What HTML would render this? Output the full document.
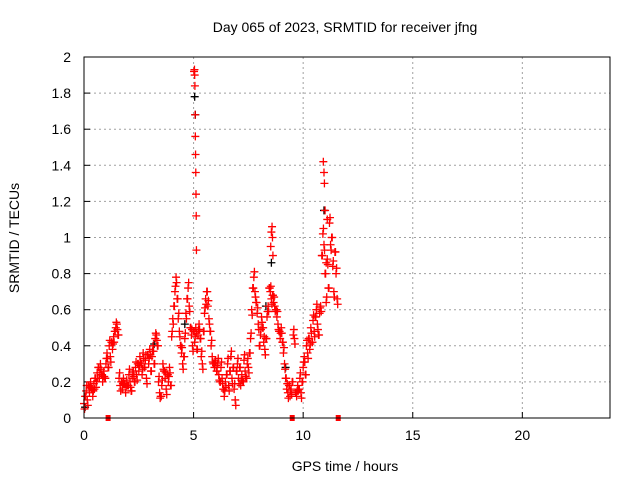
<!DOCTYPE html>
<html><head><meta charset="utf-8"><style>
body{margin:0;background:#fff;width:640px;height:480px;overflow:hidden}
svg{font-family:"Liberation Sans",sans-serif;font-size:14px}
</style></head><body>
<svg id="c" width="640" height="480"></svg>
<script>
const xTicks=[0,5,10,15,20];
const yTicks=[0,0.2,0.4,0.6,0.8,1,1.2,1.4,1.6,1.8,2];
const redStart=0, redStep=0.05;
const redValues=[0.08,0.12,0.15,0.10,0.18,0.14,0.20,0.16,0.12,0.19,
0.22,0.17,0.25,0.28,0.22,0.30,0.24,0.20,0.26,0.22,
0.30,0.36,0.28,0.40,0.34,0.42,0.38,0.45,0.48,0.50,
0.52,0.46,0.22,0.18,0.20,0.16,0.22,0.19,0.14,0.21,
0.18,0.24,0.20,0.15,0.22,0.26,0.20,0.28,0.24,0.30,
0.26,0.34,0.30,0.24,0.36,0.28,0.32,0.22,0.35,0.30,
0.38,0.26,0.34,0.40,0.30,0.44,0.46,0.40,0.20,0.14,
0.12,0.18,0.30,0.26,0.22,0.16,0.24,0.20,0.28,0.18,
0.45,0.55,0.62,0.70,0.78,0.66,0.55,0.48,0.40,0.36,
0.30,0.34,0.44,0.58,0.66,0.72,0.62,0.50,0.46,0.40,
0.48,0.42,0.50,0.38,0.46,0.52,0.44,0.34,0.30,0.48,
0.58,0.66,0.70,0.62,0.55,0.48,0.40,0.34,0.30,0.28,
0.32,0.26,0.30,0.24,0.20,0.28,0.22,0.16,0.12,0.20,
0.24,0.30,0.18,0.26,0.34,0.22,0.28,0.16,0.10,0.26,
0.30,0.22,0.28,0.18,0.24,0.20,0.32,0.26,0.22,0.30,
0.28,0.36,0.44,0.60,0.72,0.78,0.70,0.64,0.58,0.52,
0.40,0.46,0.56,0.50,0.42,0.38,0.44,0.56,0.62,0.72,
0.70,0.66,0.68,0.64,0.62,0.60,0.56,0.52,0.48,0.44,
0.50,0.42,0.36,0.30,0.22,0.16,0.14,0.18,0.12,0.16,
0.20,0.46,0.44,0.14,0.12,0.18,0.16,0.22,0.14,0.20,
0.28,0.34,0.24,0.40,0.36,0.44,0.38,0.50,0.42,0.54,
0.48,0.56,0.60,0.52,0.46,0.58,0.62,0.90,1.02,0.96,
0.80,0.64,0.88,0.72,1.08,0.96,1.00,0.84,0.70,0.92,
0.80,0.66];
const blackTimes=[0.05,3.2,4.6,5.05,5.08,8.3,8.55,9.2,10.95];
const blackValues=[0.06,0.41,0.52,1.78,1.68,0.62,0.86,0.28,1.15];
const spikeTimes=[5.02,5.04,5.05,5.06,5.07,5.08,5.09,5.1,5.11,5.12,5.13,8.52,8.55,8.58,8.6,8.62,10.92,10.95,10.97,11.0,11.05,11.1];
const spikeValues=[1.92,1.93,1.90,1.84,1.68,1.56,1.46,1.36,1.24,1.12,0.93,0.95,1.03,1.06,1.00,0.90,1.42,1.36,1.30,1.15,0.86,1.10];
const flagTimes=[1.1,9.5,11.6];
const flagValues=[0,0,0];

const L=84,R=610,T=57,B=418;
const X=t=>L+(t/24)*(R-L);
const Y=v=>B-(v/2)*(B-T);
const svg=document.getElementById('c');
const NS='http://www.w3.org/2000/svg';
function mk(tag,attrs,parent){const e=document.createElementNS(NS,tag);for(const k in attrs)e.setAttribute(k,attrs[k]);(parent||svg).appendChild(e);return e;}

const grid=mk('g',{});


xTicks.forEach(t=>{if(t>0){const l=mk('line',{x1:X(t),x2:X(t),y1:T,y2:B,stroke:'#a0a0a0','stroke-dasharray':'2,3'},grid);}});
yTicks.forEach(v=>{if(v>0&&v<2){const l=mk('line',{x1:L,x2:R,y1:Y(v),y2:Y(v),stroke:'#a0a0a0','stroke-dasharray':'2,3'},grid);}});

xTicks.forEach(t=>{
const tk=mk('line',{x1:X(t),x2:X(t),y1:B,y2:B-6,stroke:'#000'});


const tx=mk('text',{x:X(t),y:B+22,'text-anchor':'middle'});tx.textContent=t;


});
yTicks.forEach(v=>{
const tk=mk('line',{x1:L,x2:L+6,y1:Y(v),y2:Y(v),stroke:'#000'});


const tx=mk('text',{x:71,y:Y(v)+5,'text-anchor':'end'});tx.textContent=String(v);


});

function plus(t,v,col,g){const x=X(t),y=Y(v);const p=mk('path',{d:`M${x-4} ${y}h8M${x} ${y-4}v8`,stroke:col,'stroke-width':1.3,fill:'none'},g);

}
const gb=mk('g',{});


blackValues.forEach((v,i)=>plus(blackTimes[i],v,'#000',gb));
const gr=mk('g',{});


redValues.forEach((v,i)=>{const t=redStart+i*redStep;plus(t,v,'#f00',gr);plus(t+0.025,v+((i%3)-1)*0.03,'#f00',gr);});
spikeTimes.forEach((t,i)=>plus(t,spikeValues[i],'#f00',gr));
flagTimes.forEach((t,i)=>{const r=mk('rect',{x:X(t)-2.5,y:Y(flagValues[i])-3,width:5,height:6,fill:'#f00'},gr);

});

const frame=mk('rect',{x:L,y:T,width:R-L,height:B-T,fill:'none',stroke:'#000'});


const title=mk('text',{x:345,y:32,'text-anchor':'middle'});title.textContent='Day 065 of 2023, SRMTID for receiver jfng';


const xl=mk('text',{x:345,y:471,'text-anchor':'middle'});xl.textContent='GPS time / hours';


const yl=mk('text',{x:0,y:0,'text-anchor':'middle',transform:'translate(19,238) rotate(-90)'});yl.textContent='SRMTID / TECUs';


</script>
</body></html>
